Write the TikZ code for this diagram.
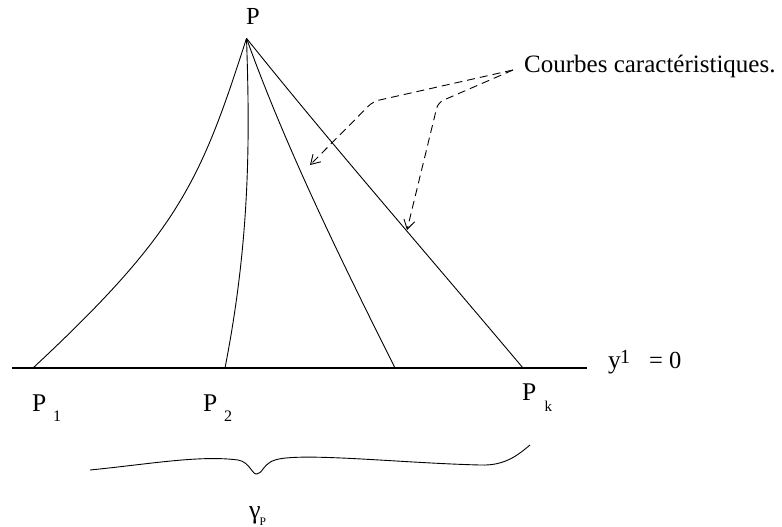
\documentclass[tikz,border=0pt]{standalone}
\usepackage{fontspec}
\setmainfont{Liberation Serif}
\usetikzlibrary{arrows.meta}
\begin{document}
\begin{tikzpicture}[x=1pt,y=-1pt,
  curve/.style={line width=0.9pt},
  axis/.style={line width=1.2pt},
  callout/.style={line width=0.9pt, dash pattern=on 8pt off 5pt, rounded corners=6pt,
     -{Straight Barb[length=9pt,width=11pt,line width=0.9pt]}},
  lbl/.style={inner sep=0pt, anchor=base west, font=\fontsize{24.5}{27}\selectfont},
  sub/.style={inner sep=0pt, anchor=base west, font=\fontsize{15}{16}\selectfont}]
\useasboundingbox (0,0) rectangle (782,527);
% points
\coordinate (P) at (246.5,38.3);
\coordinate (F1) at (33,368);
\coordinate (F2) at (225,368);
\coordinate (F3) at (395,368);
\coordinate (Fk) at (523,368);
\coordinate (L) at (12,368);
\coordinate (R) at (587,368);
\coordinate (S) at (513,70);
\coordinate (CA) at (373,101.5);
\coordinate (TA) at (310,165);
\coordinate (CB) at (438,102.5);
\coordinate (TB) at (407,230);
% axis
\draw[axis] (L) -- (R);
% characteristic curves
\draw[curve] (F1) .. controls (179,232) and (200.7,181) .. (P);
\draw[curve] (F2) .. controls (250,240) and (250,140) .. (P);
\draw[curve] (P) .. controls (286,148) and (340,258) .. (F3);
\draw[curve] (P) .. controls (330.5,143.3) and (422,248) .. (Fk);
% callouts
\node[lbl, font=\fontsize{25}{28}\selectfont] (cc) at (524,73) {Courbes caractéristiques.};
\draw[callout] (S) -- (CA) -- (TA);
\draw[callout] (S) -- (CB) -- (TB);
% labels
\node[lbl] (pl) at (246,25) {P};
\node[lbl, font=\fontsize{25.5}{28}\selectfont] (p1) at (32,411.5) {P};
\node[sub, font=\fontsize{16}{17}\selectfont] (s1) at (53,421.5) {1};
\node[lbl, font=\fontsize{25.5}{28}\selectfont] (p2) at (203,411.5) {P};
\node[sub, font=\fontsize{16}{17}\selectfont] (s2) at (224,421.5) {2};
\node[lbl, font=\fontsize{25.5}{28}\selectfont] (pk) at (522,400) {P};
\node[sub] (sk) at (544.5,411) {k};
\node[lbl, font=\fontsize{25.5}{28}\selectfont] (y) at (608,368) {y};
\node[sub, font=\fontsize{20}{21}\selectfont] (y1) at (620,363) {1};
\node[lbl] (eq) at (649,368) {= 0};
% brace
\draw[curve] (90,470) .. controls (150,464) and (200,455) .. (238,460)
  .. controls (250,462) and (252,475) .. (257,474)
  .. controls (262,474) and (264,463) .. (275,460)
  .. controls (300,452) and (400,463) .. (480,465)
  .. controls (505,466) and (518,455) .. (530,445);
\node[lbl, font=\fontsize{26}{28}\selectfont] (g) at (249,518) {γ};
\node[sub, font=\fontsize{11.5}{12}\selectfont] (gp) at (259.5,525.5) {P};
\end{tikzpicture}
\end{document}
